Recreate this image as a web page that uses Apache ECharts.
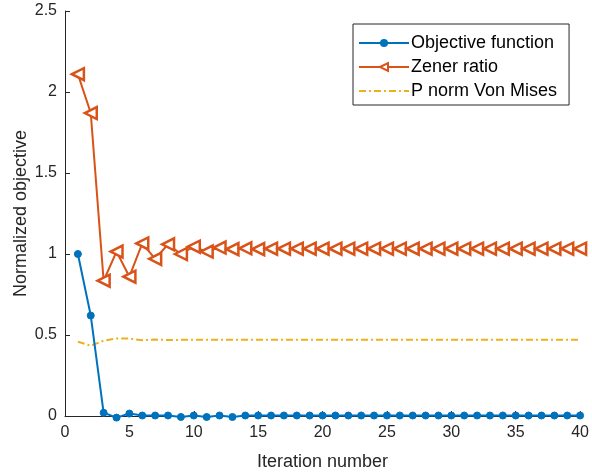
<!DOCTYPE html>
<html>
<head>
<meta charset="utf-8">
<script src="https://cdn.jsdelivr.net/npm/echarts@6/dist/echarts.min.js"></script>
<style>
  html, body { margin: 0; padding: 0; background: #fff; }
  #chart { width: 592px; height: 476px; }
</style>
</head>
<body>
<div id="chart"></div>
<script>
// Iteration history of the optimisation (normalized quantities)
const iterations = Array.from({ length: 40 }, (_, i) => i + 1);

const objectiveFunction = [
  1.0, 0.62, 0.02, -0.01, 0.015, 0.003, 0.003, 0.003, -0.006, 0.003,
  -0.006, 0.003, -0.006, 0.003, 0.003, 0.003, 0.003, 0.003, 0.003, 0.003,
  0.003, 0.003, 0.003, 0.003, 0.003, 0.003, 0.003, 0.003, 0.003, 0.003,
  0.003, 0.003, 0.003, 0.003, 0.003, 0.003, 0.003, 0.003, 0.003, 0.003
];

const zenerRatio = [
  2.11, 1.87, 0.835, 1.015, 0.86, 1.065, 0.97, 1.06, 1.0, 1.045,
  1.015, 1.04, 1.03, 1.035, 1.03, 1.033, 1.033, 1.033, 1.033, 1.033,
  1.033, 1.033, 1.033, 1.033, 1.033, 1.033, 1.033, 1.033, 1.033, 1.033,
  1.033, 1.033, 1.033, 1.033, 1.033, 1.033, 1.033, 1.033, 1.033, 1.033
];

const pNormVonMises = [
  0.458, 0.434, 0.465, 0.479, 0.479, 0.467, 0.472, 0.469, 0.47, 0.47,
  0.47, 0.47, 0.47, 0.47, 0.47, 0.47, 0.47, 0.47, 0.47, 0.47,
  0.47, 0.47, 0.47, 0.47, 0.47, 0.47, 0.47, 0.47, 0.47, 0.47,
  0.47, 0.47, 0.47, 0.47, 0.47, 0.47, 0.47, 0.47, 0.47, 0.47
];

const seriesNames = ['Objective function', 'Zener ratio', 'P norm Von Mises'];
const xTicks = { min: 0, max: 40, step: 5 };
const yTicks = { min: 0, max: 2.5, step: 0.5 };

const pair = (ys) => iterations.map((x, i) => [x, ys[i]]);

const FONT = '"Liberation Sans", Arial, Helvetica, sans-serif';
const INK = '#262626';
const BLUE = '#0072BD';
const ORANGE = '#D95319';
const YELLOW = '#EDB120';

const chart = echarts.init(document.getElementById('chart'), null, { renderer: 'canvas' });

const axisCommon = {
  axisLine: { show: true, lineStyle: { color: INK, width: 1 } },
  axisTick: { show: true, inside: true, length: 5, lineStyle: { color: INK } },
  splitLine: { show: false },
  axisLabel: { color: INK, fontFamily: FONT, fontSize: 16 },
  nameTextStyle: { color: INK, fontFamily: FONT, fontSize: 18 },
  nameMoveOverlap: false
};

chart.setOption({
  animation: false,
  backgroundColor: '#fff',
  grid: { left: 65, right: 7, top: 11, bottom: 56, containLabel: false },
  xAxis: Object.assign({}, axisCommon, {
    type: 'value',
    min: xTicks.min, max: xTicks.max, interval: xTicks.step,
    name: 'Iteration number',
    nameLocation: 'middle',
    nameGap: 37,
    axisLabel: Object.assign({}, axisCommon.axisLabel, { margin: 9 })
  }),
  yAxis: Object.assign({}, axisCommon, {
    type: 'value',
    min: yTicks.min, max: yTicks.max, interval: yTicks.step,
    name: 'Normalized objective',
    nameLocation: 'middle',
    nameGap: 35,
    axisLabel: Object.assign({}, axisCommon.axisLabel, { margin: 8 })
  }),
  legend: {
    orient: 'vertical',
    left: 353,
    top: 24,
    data: [
      { name: seriesNames[0] },
      { name: seriesNames[1] },
      { name: seriesNames[2], itemStyle: { color: 'rgba(0,0,0,0)', borderWidth: 0, opacity: 0 } }
    ],
    itemWidth: 50,
    itemHeight: 10,
    itemGap: 6,
    padding: [10, 12, 5, 5],
    borderColor: INK,
    borderWidth: 1,
    backgroundColor: '#fff',
    textStyle: { color: '#000', fontFamily: FONT, fontSize: 18, padding: [0, 0, 0, -3] }
  },
  series: [
    {
      name: seriesNames[0],
      type: 'line',
      data: pair(objectiveFunction),
      clip: false,
      symbol: 'circle',
      symbolSize: 7,
      lineStyle: { color: BLUE, width: 2 },
      itemStyle: { color: BLUE, borderColor: BLUE },
      z: 3
    },
    {
      name: seriesNames[1],
      type: 'line',
      data: pair(zenerRatio),
      clip: false,
      symbol: 'triangle',
      symbolRotate: 90,
      symbolSize: 12,
      showAllSymbol: true,
      lineStyle: { color: ORANGE, width: 2 },
      itemStyle: { color: '#fff', borderColor: ORANGE, borderWidth: 2.5 },
      z: 2
    },
    {
      name: seriesNames[2],
      type: 'line',
      data: pair(pNormVonMises),
      clip: false,
      symbol: 'none',
      lineStyle: { color: YELLOW, width: 2, type: [7, 3, 2, 3] },
      itemStyle: { color: YELLOW },
      z: 1
    }
  ]
});
</script>
</body>
</html>
